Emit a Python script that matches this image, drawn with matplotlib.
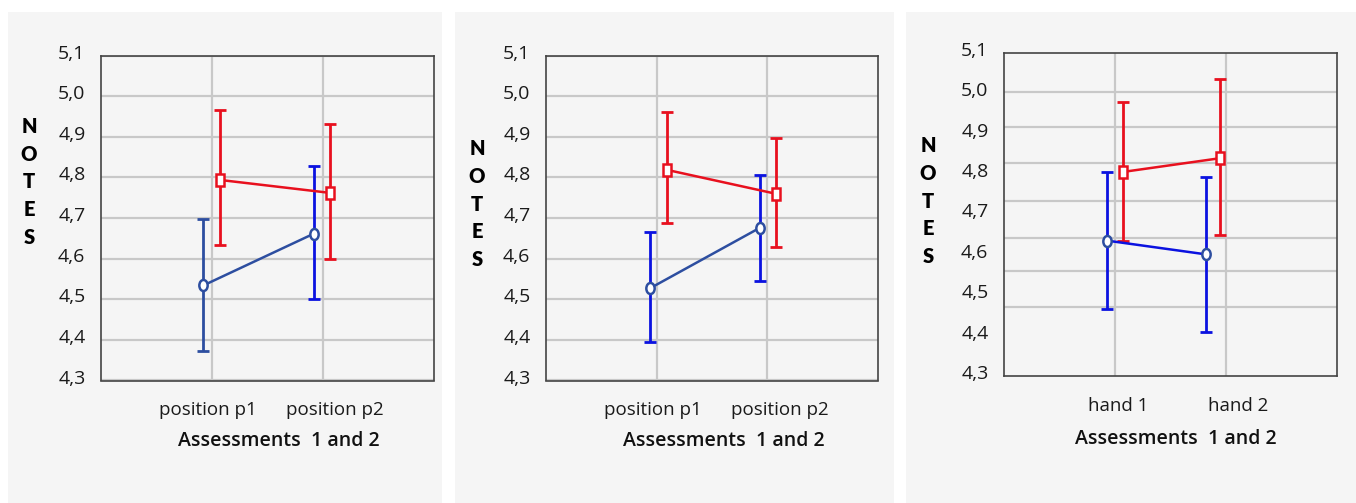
import matplotlib
matplotlib.use('Agg')
import matplotlib.pyplot as plt
from matplotlib.markers import MarkerStyle
from matplotlib.patches import Rectangle
from matplotlib.transforms import Affine2D, ScaledTranslation

W, H = 1356, 503

# data
cats_position = ['position p1', 'position p2']
cats_hand = ['hand 1', 'hand 2']
y_ticks = [4.3, 4.4, 4.5, 4.6, 4.7, 4.8, 4.9, 5.0, 5.1]
y_tick_labels = ['4,3', '4,4', '4,5', '4,6', '4,7', '4,8', '4,9', '5,0', '5,1']

p1_red = [4.794, 4.762]
p1_red_lo = [4.633, 4.600]
p1_red_hi = [4.966, 4.931]
p1_blue = [4.534, 4.662]
p1_blue_lo = [4.372, 4.500]
p1_blue_hi = [4.697, 4.828]

p2_red = [4.819, 4.760]
p2_red_lo = [4.688, 4.630]
p2_red_hi = [4.961, 4.898]
p2_blue = [4.527, 4.676]
p2_blue_lo = [4.396, 4.544]
p2_blue_hi = [4.665, 4.805]

p3_red = [4.805, 4.839]
p3_red_lo = [4.635, 4.650]
p3_red_hi = [4.977, 5.035]
p3_blue = [4.635, 4.601]
p3_blue_lo = [4.466, 4.408]
p3_blue_hi = [4.805, 4.793]

# third panel: its grid lines do not sit on its tick labels
p3_grid = [4.471, 4.561, 4.641, 4.734, 4.826, 4.915, 5.003]

RED = '#E8101E'
DBLUE = '#2D4EA0'
BBLUE = '#0B12E0'
GRID = '#C8C8C8'
PANEL = '#F5F5F5'
FONT = ['Open Sans', 'DejaVu Sans']

fig = plt.figure(figsize=(W / 100, H / 100), dpi=100)
fig.patch.set_facecolor('white')

# grey backgrounds of the three panels
for x0, x1 in [(8, 442), (455, 894), (906, 1356)]:
    fig.patches.append(Rectangle((x0 / W, 0), (x1 - x0) / W, (H - 12) / H,
                                 transform=fig.transFigure, facecolor=PANEL,
                                 edgecolor='none', zorder=-10))


def box(left, right, top, bottom):
    return [left / W, (H - bottom) / H, (right - left) / W, (bottom - top) / H]


panels = [
    dict(rect=box(100.7, 434.3, 55.7, 380.5), cats=cats_position,
         red=(p1_red, p1_red_lo, p1_red_hi), blue=(p1_blue, p1_blue_lo, p1_blue_hi),
         dx_red=[0.072, 0.066], dx_blue=[-0.078, -0.081],
         bar_blue=[DBLUE, BBLUE], line_blue=DBLUE, grid=None,
         ylab=(29, 182), xlab=(279, 441), shift=[-4, 12]),
    dict(rect=box(545.7, 878.3, 55.7, 380.5), cats=cats_position,
         red=(p2_red, p2_red_lo, p2_red_hi), blue=(p2_blue, p2_blue_lo, p2_blue_hi),
         dx_red=[0.09, 0.075], dx_blue=[-0.06, -0.069],
         bar_blue=[BBLUE, BBLUE], line_blue=DBLUE, grid=None,
         ylab=(477, 204), xlab=(724, 441), shift=[-4, 12]),
    dict(rect=box(1003.7, 1336.7, 52.7, 376), cats=cats_hand,
         red=(p3_red, p3_red_lo, p3_red_hi), blue=(p3_blue, p3_blue_lo, p3_blue_hi),
         dx_red=[0.076, -0.049], dx_blue=[-0.069, -0.178],
         bar_blue=[BBLUE, BBLUE], line_blue=BBLUE, grid=p3_grid,
         ylab=(928, 201), xlab=(1176, 439), shift=[3, 12]),
]

sq = MarkerStyle('s', transform=Affine2D().scale(0.8, 1.0))
ell = MarkerStyle('o', transform=Affine2D().scale(0.75, 1.0))
lift = ScaledTranslation(0, 0.04, fig.dpi_scale_trans)

for p in panels:
    ax = fig.add_axes(p['rect'])
    ax.set_facecolor(PANEL)
    ax.set_xlim(0, 3)
    ax.set_ylim(4.3, 5.1)
    ax.set_yticks(y_ticks)
    ax.set_yticklabels(y_tick_labels, family=FONT, fontsize=14)
    ax.set_xticks([1, 2])
    ax.set_xticklabels(p['cats'], family=FONT, fontsize=13.5)
    ax.tick_params(axis='both', length=0, colors='#1a1a1a')
    ax.tick_params(axis='y', pad=11)
    ax.tick_params(axis='x', pad=15)

    ax.grid(True, axis='x', color=GRID, linewidth=1.6, zorder=0)
    if p['grid'] is None:
        ax.grid(True, axis='y', color=GRID, linewidth=1.6, zorder=0)
    else:
        ax.set_yticks(p['grid'], minor=True)
        ax.tick_params(axis='y', which='minor', length=0)
        ax.grid(True, axis='y', which='minor', color=GRID, linewidth=1.6, zorder=0)
    ax.set_axisbelow(True)
    for s in ax.spines.values():
        s.set_color('#444444')
        s.set_linewidth(1.2)

    # nudge tick labels (after tick_params, which resets their transforms)
    for lbl in ax.get_yticklabels():
        lbl.set_transform(lbl.get_transform() + lift)
    for lbl, dx in zip(ax.get_xticklabels(), p['shift']):
        lbl.set_transform(lbl.get_transform()
                          + ScaledTranslation(dx / 100, 0, fig.dpi_scale_trans))

    xs = [1, 2]
    # blue series
    vals, lo, hi = p['blue']
    bx = [x + d for x, d in zip(xs, p['dx_blue'])]
    for i in range(2):
        ax.errorbar(bx[i], vals[i], yerr=[[vals[i] - lo[i]], [hi[i] - vals[i]]],
                    fmt='none', ecolor=p['bar_blue'][i], elinewidth=2.0,
                    capsize=4, capthick=2.0, zorder=3)
    ax.plot(bx, vals, color=p['line_blue'], linewidth=1.8, zorder=4)
    ax.plot(bx, vals, linestyle='none', marker=ell, markersize=8,
            markerfacecolor='white', markeredgecolor=DBLUE, markeredgewidth=1.8, zorder=5)

    # red series
    vals, lo, hi = p['red']
    rx = [x + d for x, d in zip(xs, p['dx_red'])]
    for i in range(2):
        ax.errorbar(rx[i], vals[i], yerr=[[vals[i] - lo[i]], [hi[i] - vals[i]]],
                    fmt='none', ecolor=RED, elinewidth=2.0,
                    capsize=4, capthick=2.0, zorder=3)
    ax.plot(rx, vals, color=RED, linewidth=1.8, zorder=4)
    ax.plot(rx, vals, linestyle='none', marker=sq, markersize=8,
            markerfacecolor='white', markeredgecolor=RED, markeredgewidth=1.8, zorder=5)

    # stacked axis title and x title
    fig.text(p['ylab'][0] / W, 1 - p['ylab'][1] / H, 'N\nO\nT\nE\nS',
             ha='center', va='center', fontsize=14.5, fontweight='heavy',
             family=['Lato', 'DejaVu Sans'], linespacing=1.55, color='black')
    fig.text(p['xlab'][0] / W, 1 - p['xlab'][1] / H, 'Assessments  1 and 2',
             ha='center', va='center', fontsize=14, fontweight='semibold',
             family=FONT, color='#111111')

fig.savefig('out.png', dpi=100, facecolor=fig.get_facecolor())
